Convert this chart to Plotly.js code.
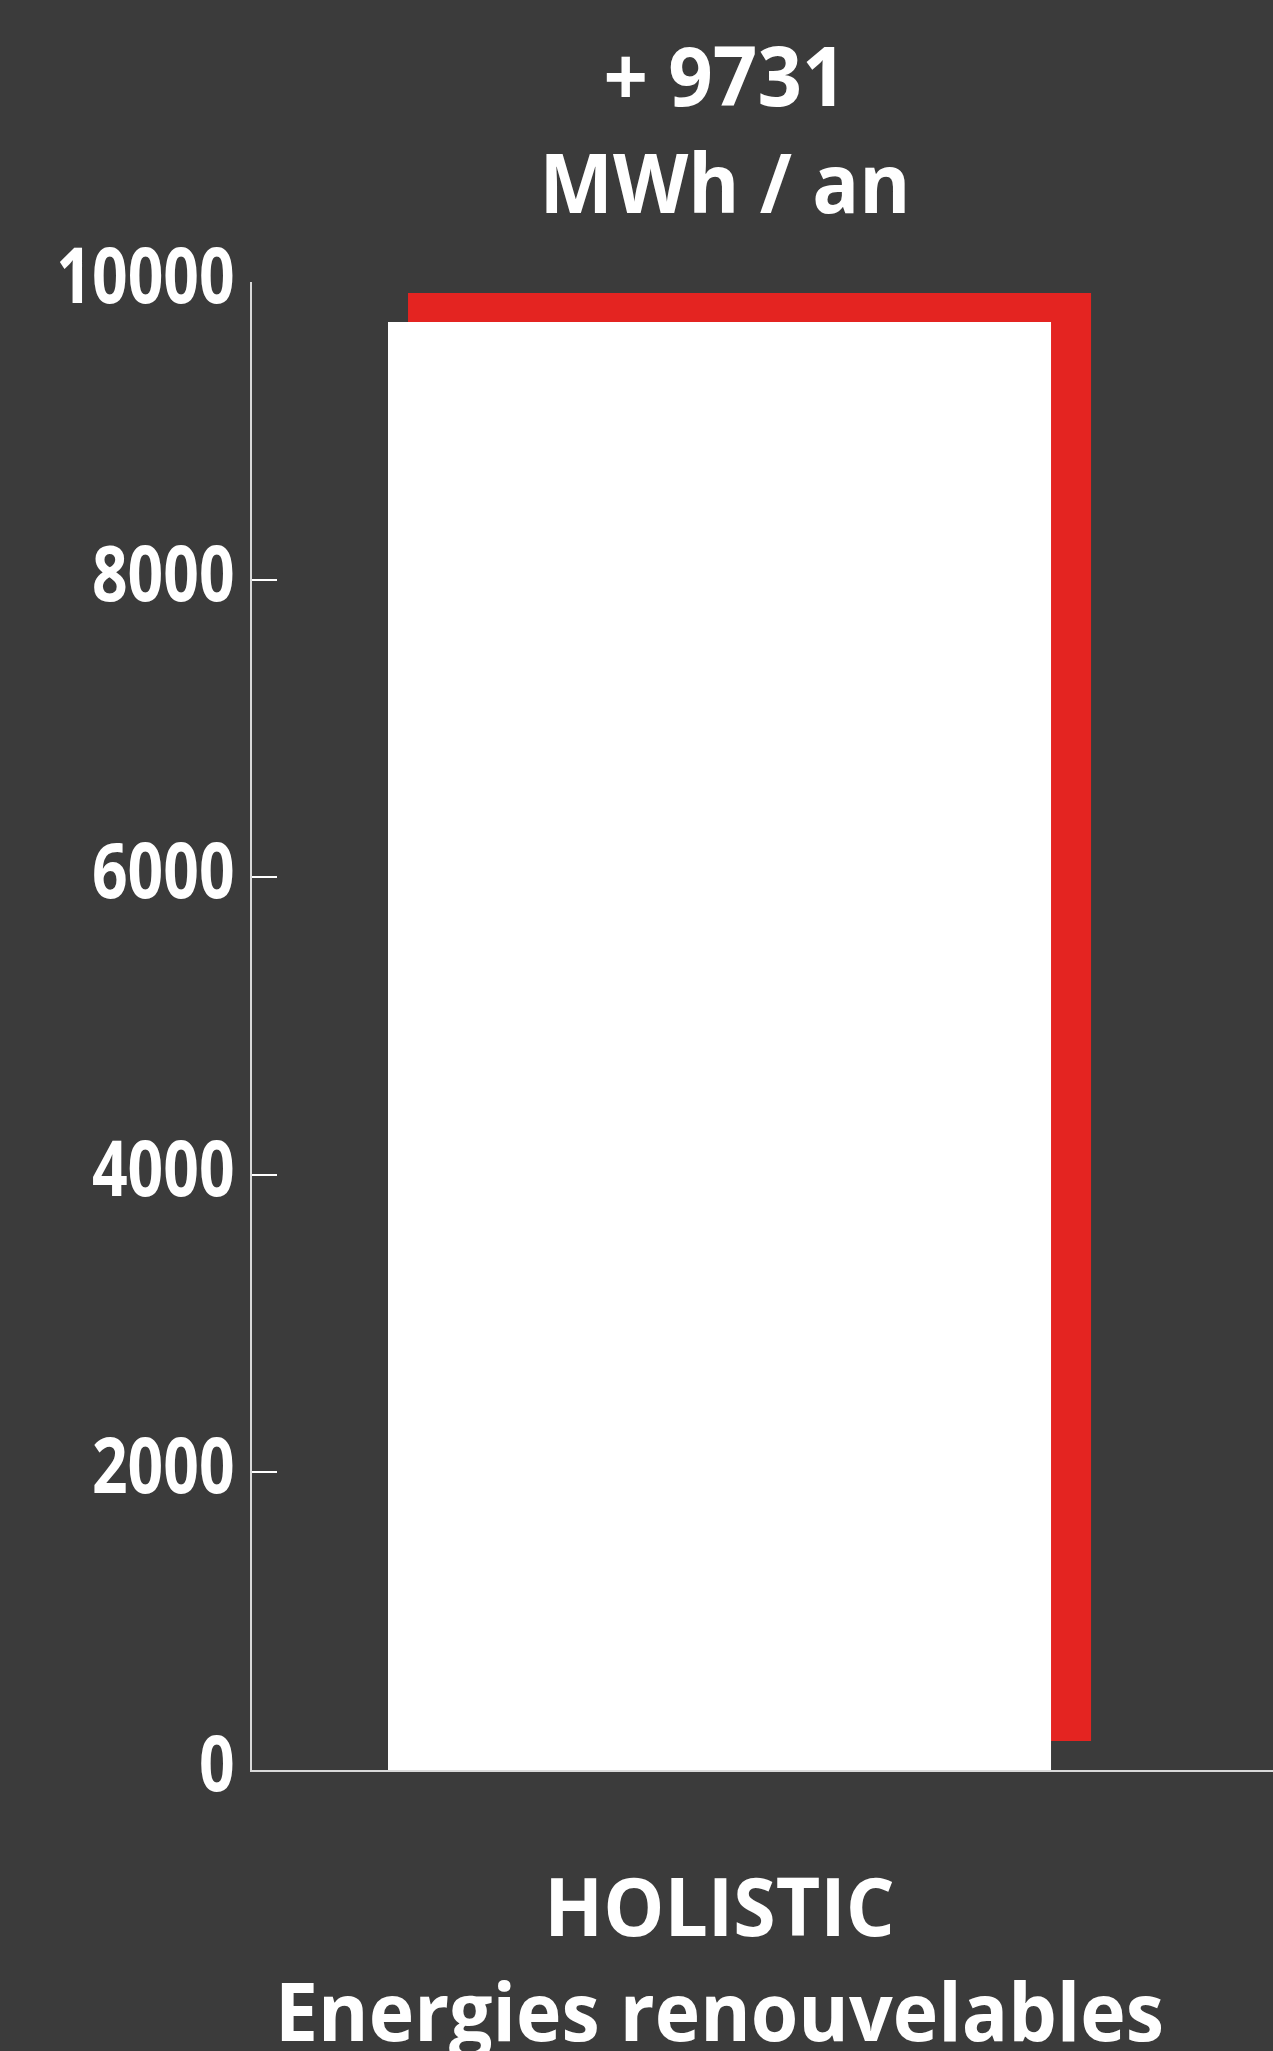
<!DOCTYPE html>
<html>
<head>
<meta charset="utf-8">
<script src="https://cdn.plot.ly/plotly-3.0.1.min.js"></script>
<style>
  html, body { margin: 0; padding: 0; background: #3b3b3b; }
  #chart { width: 1273px; height: 2051px; }
</style>
</head>
<body>
<div id="chart"></div>
<script>
// ---- data ----
const categories = ['HOLISTIC<br>Energies renouvelables'];
const values = [9731];
const shadowValues = [9731];
const shadowBase = [195];
const yTickVals = [0, 2000, 4000, 6000, 8000, 10000];
const yTickText = ['0', '2000', '4000', '6000', '8000', '10000'];
const titleText = '+ 9731<br>MWh / an';

const BG = '#3b3b3b';
const RED = '#e42421';
const LABEL_FONT = 'Open Sans, Lato, Liberation Sans, sans-serif';
const TICK_FONT = 'Open Sans, Liberation Sans, sans-serif';

const shadow = {
  type: 'bar',
  x: categories,
  y: shadowValues,
  base: shadowBase,
  width: 0.669,
  offset: -0.3051,
  marker: { color: RED, line: { width: 0 } },
  hoverinfo: 'skip'
};

const main = {
  type: 'bar',
  x: categories,
  y: values,
  width: 0.6494,
  offset: -0.3247,
  marker: { color: '#ffffff', line: { width: 0 } },
  hoverinfo: 'skip'
};

const layout = {
  width: 1273,
  height: 2051,
  paper_bgcolor: BG,
  plot_bgcolor: BG,
  showlegend: false,
  barmode: 'overlay',
  margin: { l: 252, r: 0, t: 282, b: 281, pad: 0 },
  title: {
    text: titleText,
    x: 0.4633,
    xref: 'paper',
    xanchor: 'center',
    y: 1 - 106 / 2051,
    yref: 'container',
    yanchor: 'top',
    font: { family: LABEL_FONT, size: 82, color: '#ffffff', weight: 700 }
  },
  xaxis: {
    type: 'category',
    range: [-0.4579, 0.5421],
    showline: true,
    linecolor: '#d9d9d9',
    linewidth: 2,
    ticks: '',
    showgrid: false,
    zeroline: false,
    ticklabelstandoff: 67,
    tickfont: { family: LABEL_FONT, size: 81, color: '#ffffff', weight: 700 }
  },
  yaxis: {
    range: [0, 10000],
    tickvals: yTickVals,
    ticktext: yTickText,
    ticks: 'inside',
    ticklen: 25,
    tickwidth: 2,
    tickcolor: '#ffffff',
    showline: true,
    linecolor: '#d9d9d9',
    linewidth: 2,
    showgrid: false,
    zeroline: false,
    ticklabelstandoff: 0,
    ticklabelshift: -6,
    tickfont: { family: TICK_FONT, size: 77, color: '#ffffff', weight: 700 }
  }
};

// narrow the glyphs horizontally about each label's anchor point (text stays real text)
function condense(selector, factor) {
  document.querySelectorAll(selector).forEach(function (el) {
    const ax = parseFloat(el.getAttribute('x')) || 0;
    const prev = el.getAttribute('transform') || '';
    el.setAttribute('transform',
      prev + ' translate(' + ax + ',0) scale(' + factor + ',1) translate(' + (-ax) + ',0)');
  });
}

Plotly.newPlot('chart', [shadow, main], layout, { displayModeBar: false, staticPlot: true })
  .then(function () {
    condense('#chart .ytick text', 0.81);
    condense('#chart .xtick text', 0.95);
    condense('#chart .gtitle', 0.95);
  });
</script>
</body>
</html>
